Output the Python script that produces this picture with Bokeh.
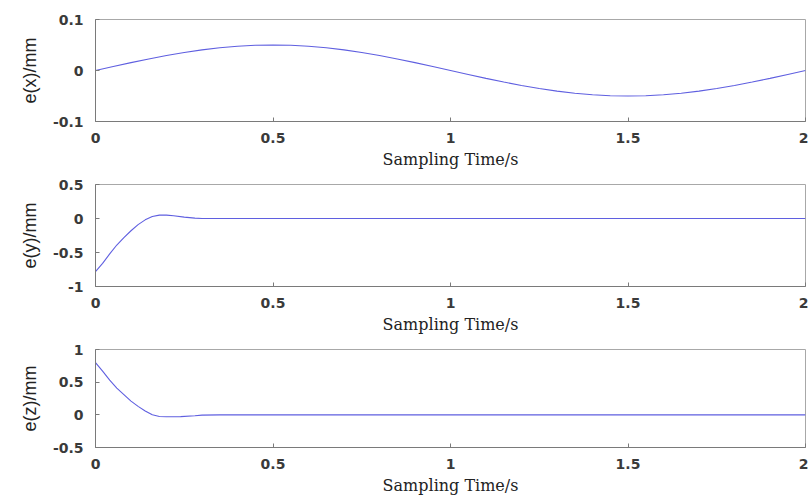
from bokeh.plotting import figure
from bokeh.layouts import column
from bokeh.models import FixedTicker
from bokeh.embed import file_html
from bokeh.resources import INLINE

# ---- data ----
t_x = [0.0, 0.05, 0.1, 0.15, 0.2, 0.25, 0.3, 0.35, 0.4, 0.45, 0.5, 0.55, 0.6, 0.65, 0.7, 0.75, 0.8, 0.85, 0.9, 0.95, 1.0,
       1.05, 1.1, 1.15, 1.2, 1.25, 1.3, 1.35, 1.4, 1.45, 1.5, 1.55, 1.6, 1.65, 1.7, 1.75, 1.8, 1.85, 1.9, 1.95, 2.0]
e_x = [0.0, 0.0078, 0.0155, 0.0227, 0.0294, 0.0354, 0.0405, 0.0446, 0.0476, 0.0494, 0.05,
       0.0494, 0.0476, 0.0446, 0.0405, 0.0354, 0.0294, 0.0227, 0.0155, 0.0078, 0.0,
       -0.0078, -0.0155, -0.0227, -0.0294, -0.0354, -0.0405, -0.0446, -0.0476, -0.0494, -0.05,
       -0.0494, -0.0476, -0.0446, -0.0405, -0.0354, -0.0294, -0.0227, -0.0155, -0.0078, 0.0]

t_y = [0.0, 0.02, 0.04, 0.06, 0.08, 0.10, 0.12, 0.14, 0.16, 0.18, 0.20, 0.22, 0.25, 0.28, 0.30, 0.35, 1.0, 2.0]
e_y = [-0.78, -0.66, -0.52, -0.39, -0.28, -0.18, -0.09, -0.02, 0.03, 0.05, 0.05, 0.04, 0.02, 0.005, 0.0, 0.0, 0.0, 0.0]

t_z = [0.0, 0.02, 0.04, 0.06, 0.08, 0.10, 0.12, 0.14, 0.16, 0.18, 0.20, 0.24, 0.28, 0.30, 0.35, 1.0, 2.0]
e_z = [0.80, 0.67, 0.53, 0.41, 0.31, 0.21, 0.13, 0.06, 0.0, -0.025, -0.03, -0.028, -0.015, -0.005, 0.0, 0.0, 0.0]

x_ticks = [0, 0.5, 1, 1.5, 2]
x_tick_labels = ["0", "0.5", "1", "1.5", "2"]

panels = [
    dict(t=t_x, e=e_x, yr=(-0.1, 0.1), yt=[-0.1, 0, 0.1], yl=["-0.1", "0", "0.1"], ylabel="e(x)/mm"),
    dict(t=t_y, e=e_y, yr=(-1, 0.5), yt=[-1, -0.5, 0, 0.5], yl=["-1", "-0.5", "0", "0.5"], ylabel="e(y)/mm"),
    dict(t=t_z, e=e_z, yr=(-0.5, 1), yt=[-0.5, 0, 0.5, 1], yl=["-0.5", "0", "0.5", "1"], ylabel="e(z)/mm"),
]

AXC = "#7a7a7a"
TICK_FONT = "DejaVu Sans"
LINE = "#5f5fe0"

figs = []
for i, pn in enumerate(panels):
    first = i == 0
    last = i == 2
    top_b = 19 if first else 11
    bot_b = 46 if last else 52
    h = top_b + 102 + bot_b
    p = figure(width=808, height=h, x_range=(0, 2), y_range=pn["yr"],
               output_backend="svg", toolbar_location=None,
               min_border_left=95, min_border_right=3, min_border_top=top_b,
               min_border_bottom=bot_b)
    p.line(pn["t"], pn["e"], line_color=LINE, line_width=1.1)
    p.grid.visible = False
    p.outline_line_color = "#a8a8a8"
    p.background_fill_color = "white"
    p.border_fill_color = "white"

    xa = p.xaxis[0]
    xa.ticker = FixedTicker(ticks=x_ticks)
    xa.major_label_overrides = {k: v for k, v in zip(x_ticks, x_tick_labels)}
    xa.axis_label = "Sampling Time/s"
    xa.axis_label_text_font = "DejaVu Serif"
    xa.axis_label_text_font_size = "16px"
    xa.axis_label_text_font_style = "normal"
    xa.axis_label_text_color = "#222222"
    xa.axis_label_standoff = 4
    xa.major_label_standoff = 11

    ya = p.yaxis[0]
    ya.ticker = FixedTicker(ticks=pn["yt"])
    ya.major_label_overrides = {k: v for k, v in zip(pn["yt"], pn["yl"])}
    ya.axis_label = pn["ylabel"]
    ya.axis_label_text_font = "Liberation Sans"
    ya.axis_label_text_font_size = "18px"
    ya.axis_label_text_font_style = "normal"
    ya.axis_label_text_color = "#222222"
    ya.axis_label_standoff = 10
    ya.major_label_standoff = 12

    for ax in (xa, ya):
        ax.axis_line_color = AXC
        ax.major_tick_line_color = AXC
        ax.major_tick_in = 4
        ax.major_tick_out = 0
        ax.minor_tick_line_color = None
        ax.major_label_text_font = TICK_FONT
        ax.major_label_text_font_size = "14px"
        ax.major_label_text_font_style = "bold"
        ax.major_label_text_color = "#3a3a3a"

    figs.append(p)

layout = column(*figs, spacing=0)
open("out.html", "w").write(file_html(layout, INLINE))
